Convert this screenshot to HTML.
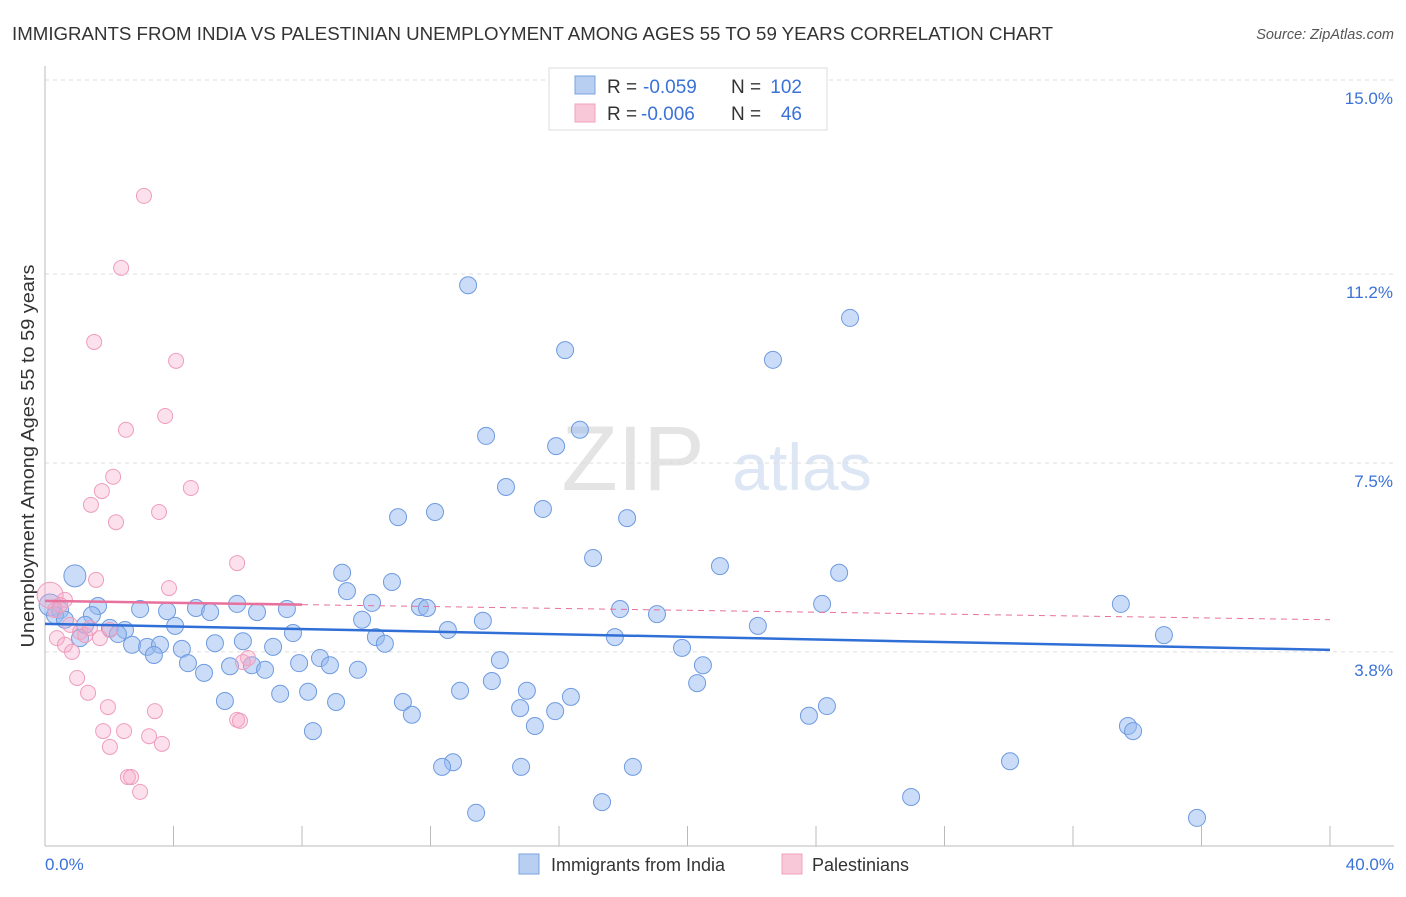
<!DOCTYPE html>
<html><head><meta charset="utf-8">
<style>
body{margin:0;background:#fff;font-family:"Liberation Sans",sans-serif;}
svg text{font-family:"Liberation Sans",sans-serif;}
</style></head>
<body>
<svg id="c" width="1406" height="892" xmlns="http://www.w3.org/2000/svg">
<text x="12" y="40" font-size="18" fill="#333" textLength="1041" lengthAdjust="spacingAndGlyphs">IMMIGRANTS FROM INDIA VS PALESTINIAN UNEMPLOYMENT AMONG AGES 55 TO 59 YEARS CORRELATION CHART</text>
<text x="1394" y="39" font-size="14.5" fill="#555" text-anchor="end" font-style="italic">Source: ZipAtlas.com</text>
<text x="34" y="456" font-size="18" fill="#333" text-anchor="middle" textLength="383" lengthAdjust="spacingAndGlyphs" transform="rotate(-90 34 456)">Unemployment Among Ages 55 to 59 years</text>
<g><text x="633" y="490" font-size="92" fill="#e4e4e4" text-anchor="middle" font-family="Liberation Serif">ZIP</text><text x="802" y="490" font-size="66" fill="#dce6f4" text-anchor="middle">atlas</text></g>
<g id="grid"></g><g id="axes"></g><g id="pts"></g><g id="trend"></g>
<g>
<rect x="549" y="68" width="278" height="62" fill="#fff" stroke="#ddd"/>
<rect x="575" y="76" width="20" height="18" fill="#b8cff2" stroke="#7aa3e0"/>
<text x="607" y="93" font-size="19" fill="#333">R =</text>
<text x="643" y="93" font-size="19" fill="#3a72d8">-0.059</text>
<text x="731" y="93" font-size="19" fill="#333">N =</text>
<text x="802" y="93" font-size="19" fill="#3a72d8" text-anchor="end">102</text>
<rect x="575" y="104" width="20" height="18" fill="#f8c8d8" stroke="#f0a0bf"/>
<text x="607" y="120" font-size="19" fill="#333">R =</text>
<text x="641" y="120" font-size="19" fill="#3a72d8">-0.006</text>
<text x="731" y="120" font-size="19" fill="#333">N =</text>
<text x="802" y="120" font-size="19" fill="#3a72d8" text-anchor="end">46</text>
</g>
<g>
<rect x="519" y="854" width="20" height="20" fill="#b8cff2" stroke="#7aa3e0"/>
<text x="551" y="871" font-size="18" fill="#333">Immigrants from India</text>
<rect x="782" y="854" width="20" height="20" fill="#f8c8d8" stroke="#f0a0bf"/>
<text x="812" y="871" font-size="18" fill="#333">Palestinians</text>
</g>
</svg>
<script>
const yTicks=[3.8,7.5,11.2,15.0];
const yTickLabels=["3.8%","7.5%","11.2%","15.0%"];
const xTicks=[0,4,8,12,16,20,24,28,32,36,40];
const indiaX=[13.17,25.06,16.19,22.66,13.73,15.91,16.65,14.35,10.99,12.14,15.50,18.12,17.06,21.01,24.72,9.25,10.80,9.40,10.18,11.67,11.89,17.90,19.05,24.19,33.49,9.87,13.63,12.54,10.30,10.58,17.74,22.19,34.83,19.83,14.16,20.48,13.91,20.30,12.92,15.00,16.37,11.14,14.79,15.88,11.42,15.25,23.78,24.34,33.71,33.87,30.04,12.70,12.36,14.82,18.30,17.34,26.96,13.42,35.86,0.93,0.16,0.47,1.65,2.96,3.80,4.70,5.14,5.98,6.60,7.53,0.31,1.46,2.02,2.49,2.27,4.05,2.71,3.18,3.58,3.39,4.26,5.29,6.16,7.10,7.72,4.45,4.95,5.76,6.44,6.85,7.91,8.56,8.87,9.74,5.60,7.32,8.19,9.06,8.34,1.09,0.62,1.25];
const indiaY=[10.98,10.34,9.71,9.52,8.03,7.83,8.15,7.03,6.44,6.54,6.60,6.42,5.64,5.48,5.35,5.35,5.17,4.99,4.76,4.68,4.66,4.64,4.54,4.74,4.74,4.43,4.41,4.23,4.09,3.96,4.09,4.31,4.13,3.88,3.64,3.54,3.23,3.19,3.04,3.04,2.92,2.82,2.70,2.64,2.57,2.35,2.55,2.74,2.35,2.25,1.66,1.64,1.55,1.55,1.55,0.86,0.96,0.65,0.55,5.29,4.72,4.62,4.70,4.64,4.60,4.66,4.58,4.74,4.58,4.64,4.52,4.52,4.27,4.23,4.15,4.31,3.94,3.90,3.94,3.74,3.86,3.97,4.01,3.90,4.17,3.58,3.39,3.52,3.54,3.45,3.58,3.68,3.54,3.45,2.84,2.98,3.02,2.82,2.25,4.07,4.43,4.33];
const palX=[3.08,2.37,1.53,4.08,3.74,2.52,2.12,1.77,4.54,1.43,3.55,2.21,5.98,1.59,3.86,0.16,0.62,0.31,0.47,0.78,1.09,1.25,1.71,2.02,0.37,0.62,0.84,6.32,6.16,1.00,1.34,1.96,3.42,1.81,2.46,3.24,3.64,2.02,5.98,6.07,2.58,2.68,2.96,1.40];
const palY=[12.73,11.32,9.87,9.50,8.42,8.15,7.23,6.95,7.01,6.68,6.54,6.34,5.54,5.21,5.05,4.91,4.82,4.62,4.72,4.33,4.19,4.13,4.07,4.23,4.07,3.94,3.80,3.68,3.60,3.29,3.00,2.72,2.64,2.25,2.25,2.15,2.00,1.94,2.47,2.45,1.35,1.35,1.06,4.27];
const indiaTrend=[4.35,3.84];
const palTrend=[4.80,4.43];
const NS="http://www.w3.org/2000/svg";
const X0=45,X1=1330,Y0=846,PXY=51.07;
function sx(v){return X0+(X1-X0)*v/40;}
function sy(v){return Y0-v*PXY;}
function mk(t,a,p){const e=document.createElementNS(NS,t);for(const k in a)e.setAttribute(k,a[k]);p.appendChild(e);return e;}
const grid=document.getElementById('grid'),axes=document.getElementById('axes'),pts=document.getElementById('pts'),tr=document.getElementById('trend');
yTicks.forEach((v,i)=>{
 const l=mk('line',{x1:X0,x2:1394,y1:sy(v),y2:sy(v),stroke:'#ddd','stroke-dasharray':'4,4'},grid);
 
 
 const t=mk('text',{x:1393,y:sy(v)+24,'font-size':17,fill:'#3a72d8','text-anchor':'end'},axes);
 t.textContent=yTickLabels[i];
 
 
});
const ax=mk('line',{x1:X0,x2:X0,y1:66,y2:Y0,stroke:'#bbb'},axes);


const bx=mk('line',{x1:X0,x2:1394,y1:Y0,y2:Y0,stroke:'#bbb'},axes);


xTicks.forEach(v=>{
 const l=mk('line',{x1:sx(v),x2:sx(v),y1:826,y2:Y0,stroke:'#bbb'},axes);
 
 
});
[[0,"0.0%","start",45],[40,"40.0%","end",1394]].forEach(d=>{
 const t=mk('text',{x:d[3],y:870,'font-size':17,fill:'#3a72d8','text-anchor':d[2]},axes);
 t.textContent=d[1];
 
 
});
indiaX.forEach((x,i)=>{
 const big=(i===59||i===60)?11:8.5;
 const c=mk('circle',{cx:sx(x),cy:sy(indiaY[i]),r:big,fill:'rgba(150,185,240,0.5)',stroke:'#6f9be0','stroke-width':1},pts);
 
 
});
palX.forEach((x,i)=>{
 const r=(i===15)?13:7.5;
 const c=mk('circle',{cx:sx(x),cy:sy(palY[i]),r:r,fill:'rgba(245,170,200,0.35)',stroke:'#ee9dbd','stroke-width':1},pts);
 
 
});
const bl=mk('line',{x1:sx(0),x2:sx(40),y1:sy(indiaTrend[0]),y2:sy(indiaTrend[1]),stroke:'#2f6fd6','stroke-width':2.5},tr);


const pm=palTrend[0]+(palTrend[1]-palTrend[0])*8/40;
const pl=mk('line',{x1:sx(0),x2:sx(8),y1:sy(palTrend[0]),y2:sy(pm),stroke:'#e8709c','stroke-width':2.5},tr);


const pd=mk('line',{x1:sx(8),x2:sx(40),y1:sy(pm),y2:sy(palTrend[1]),stroke:'#e8709c','stroke-width':1,'stroke-dasharray':'6,5'},tr);


</script>
</body></html>
